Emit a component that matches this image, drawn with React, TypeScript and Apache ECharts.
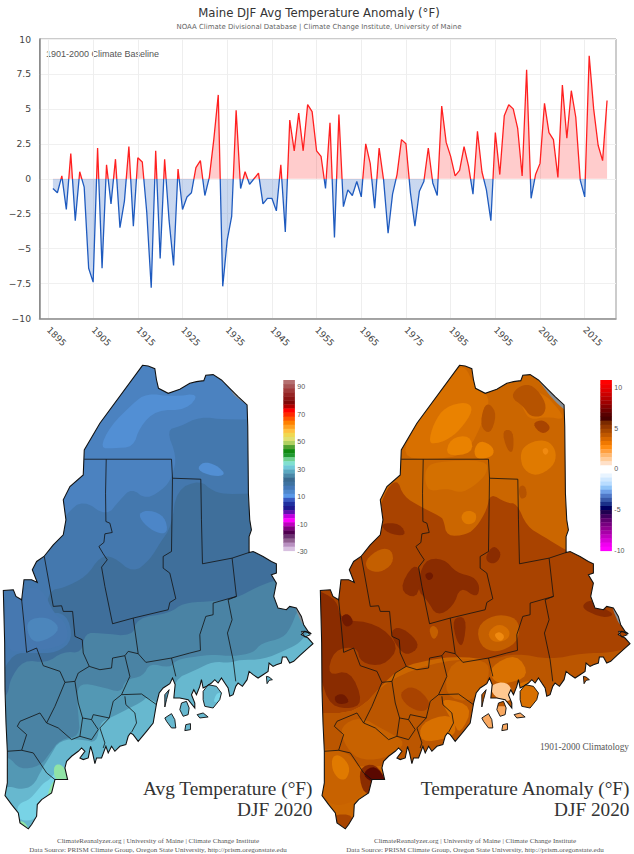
import React, { useEffect, useRef } from "react";
import * as echarts from "echarts";

const FIRST_YEAR = 1896;
const AXIS_YEARS: string[] = [];
for (let y = 1893; y <= 2022; y++) AXIS_YEARS.push(String(y));

const ANOMALY = [
  -0.7, -1.0, 0.2, -2.2, 1.8, -3.0, 0.5, -0.6, -6.4, -7.4,
  2.2, -6.4, 1.0, -1.8, 1.4, -3.5, -1.6, 2.3, -3.4, 1.5,
  1.2, -2.4, -7.8, 2.0, -5.7, 1.4, -3.0, -6.2, 0.7, -2.2,
  -1.3, -1.0, 0.8, 1.3, -1.2, 0.1, 2.8, 6.0, -7.7, -4.4,
  -2.7, 4.9, -0.7, 0.5, -0.4, 0.0, 0.4, -1.8, -1.4, -1.4,
  -2.3, 1.0, -3.8, 4.2, 2.0, 4.7, 2.0, 5.3, 4.8, 2.0,
  1.6, -0.7, 4.0, -4.2, 4.6, -2.0, -0.8, -1.2, -0.2, -1.3,
  2.5, 1.1, -2.1, 2.2, -0.1, -3.9, -1.1, 0.3, 2.8, 2.5,
  -1.0, -3.4, -0.9, -0.2, 2.2, -0.3, -1.2, 5.2, 2.6, 1.6,
  0.2, 0.6, 2.3, 0.9, -1.1, 3.4, 0.5, -0.8, -3.0, 3.3,
  0.3, 4.5, 5.3, 5.0, 3.6, 0.2, 7.8, -1.4, 0.3, 1.1,
  5.4, 3.3, 2.8, 0.1, 6.7, 2.9, 6.3, 4.4, -0.1, -1.3,
  8.8, 5.0, 2.4, 1.3, 5.6,
];

const TITLE = "Maine DJF Avg Temperature Anomaly (°F)";
const SUBTITLE = "NOAA Climate Divisional Database | Climate Change Institute, University of Maine";
const BASELINE = "1901-2000 Climate Baseline";
const FOOT_1 = "ClimateReanalyzer.org | University of Maine | Climate Change Institute";
const FOOT_2 = "Data Source: PRISM Climate Group, Oregon State University, http://prism.oregonstate.edu";

type Pt = number[];
const OUTLINE: Pt[] = [
  [428,16],[445,18],[465,26],[470,60],[476,85],[505,100],[540,88],[570,70],[590,65],[612,62],[618,46],[640,44],[665,60],[690,85],[715,110],[742,135],[744,200],[745,300],[746,400],[750,480],[755,510],[748,530],[748,578],[760,575],[790,590],[815,605],[830,612],[830,640],[815,645],[830,670],[822,710],[835,745],[860,750],[870,740],[890,745],[905,770],[912,795],[925,815],[935,822],[915,815],[905,825],[925,835],[940,852],
  [920,870],[900,888],[882,905],[870,910],[860,892],[848,892],[845,910],[830,915],[820,920],[808,910],[805,935],[790,945],[775,955],[760,945],[748,935],[742,960],[728,980],[715,970],[708,980],[700,1005],[690,1010],[685,985],[675,970],[665,955],[655,970],[645,960],[635,970],[620,980],[610,985],[605,960],[600,980],[590,1005],[582,990],[575,1005],[585,1030],[585,1045],[565,1020],[540,1015],[522,1015],[526,975],[518,955],[510,972],[490,985],[478,1000],[470,1032],[460,1090],[440,1115],[415,1145],[400,1125],[392,1120],[385,1130],[378,1155],[360,1160],[345,1175],[335,1160],[325,1180],[318,1160],[305,1195],[290,1195],[285,1212],[278,1180],[272,1160],[265,1195],[250,1200],[240,1195],[255,1175],[245,1165],[235,1175],[215,1190],[200,1205],[195,1225],[203,1260],[165,1260],[155,1300],[125,1320],[112,1335],[110,1370],[95,1395],[85,1408],[60,1390],[55,1360],[35,1335],[15,1308],[22,1270],[22,1175],[18,1090],[15,990],[14,850],[10,692],[40,690],[48,710],[65,720],[72,660],[95,660],[112,668],[97,630],[110,605],[132,590],[160,555],[190,525],[198,480],[190,420],[210,380],[250,345],[253,270],[300,190],
];
const ISLANDS: Pt[][] = [
  [[610,995],[625,975],[650,980],[665,1000],[660,1020],[640,1045],[615,1040],[610,1020]],
  [[545,1030],[560,1025],[568,1045],[565,1065],[550,1070],[540,1050]],
  [[495,1075],[515,1062],[525,1080],[528,1105],[515,1105],[500,1085]],
  [[558,1095],[572,1092],[572,1110],[555,1113]],
  [[592,1065],[610,1060],[625,1072],[600,1075]],
  [[800,950],[808,952],[818,960],[808,962],[802,972]],
  [[495,1005],[508,990],[500,1020],[495,1042]],
  [[905,815],[920,815],[932,825],[915,832]],
];
const COUNTY_LINES: Pt[][] = [
  [[253,298],[515,298],[518,355],[603,358],[605,480],[608,612],[697,595],[748,578]],
  [[319,298],[317,400],[318,485],[330,490],[337,518],[315,522],[312,548],[297,560],[310,582],[322,600],[305,622],[315,680],[338,792],[400,775],[505,750],[510,728],[528,717],[510,640],[490,625],[490,590],[515,575],[518,355]],
  [[697,595],[710,710],[685,720],[697,780],[683,820],[700,900],[708,965]],
  [[710,710],[640,730],[640,765],[618,770],[600,825],[602,872],[570,880],[515,895],[438,908],[415,882],[400,775]],
  [[515,895],[528,950]],
  [[133,590],[160,740],[185,738],[190,755],[218,755],[225,830],[247,840],[250,880],[268,920],[235,940],[225,965],[195,968]],
  [[268,920],[300,930],[335,925],[338,895],[375,888],[385,875],[415,882]],
  [[65,720],[72,790],[80,878],[110,865],[130,918],[180,935],[195,968],[165,1040],[140,1090],[175,1105],[215,1140],[240,1130],[248,1075],[235,1030],[225,965]],
  [[375,888],[390,950],[365,1005],[340,1025],[328,1075],[280,1065],[275,1080],[248,1075]],
  [[375,1010],[378,1035],[405,1060],[410,1090],[395,1118]],
  [[365,1005],[425,1003],[470,1035]],
  [[328,1075],[300,1105],[315,1150],[310,1165]],
  [[275,1080],[295,1110],[275,1140],[240,1130]],
  [[140,1090],[120,1060],[60,1085],[52,1100],[80,1125],[65,1172],[100,1180],[120,1210],[140,1240],[165,1260]],
  [[22,1175],[65,1172]],
];

type Band = { fill: string; points: Pt[] };
const W = 948;
const H = 1430;
const AVG_BANDS: Band[] = [
  { fill: "#4b82c0", points: [[0,0],[W,0],[W,H],[0,H]] },
  { fill: "#528fd4", points: [[300,265],[330,200],[400,130],[440,100],[520,110],[600,100],[560,150],[470,150],[420,200],[400,262],[340,265]] },
  { fill: "#4478ae", points: [[W,175],[680,180],[600,170],[540,200],[500,210],[530,290],[520,340],[500,380],[440,420],[395,385],[360,420],[320,470],[250,420],[200,460],[130,560],[100,620],[60,680],[0,680],[0,1000],[W,1000]] },
  { fill: "#528fd4", points: [[590,330],[610,305],[650,315],[680,345],[640,350]] },
  { fill: "#4c86c8", points: [[415,460],[450,450],[495,470],[505,520],[470,520],[430,490]] },
  { fill: "#3f6f9b", points: [[W,390],[690,405],[640,395],[600,360],[530,390],[515,500],[480,550],[450,600],[400,640],[340,590],[300,590],[260,650],[190,685],[150,690],[135,760],[200,760],[220,840],[170,880],[100,880],[40,880],[0,950],[0,1100],[W,1100]] },
  { fill: "#4678b0", points: [[15,720],[50,720],[80,680],[130,690],[160,760],[200,790],[205,850],[140,870],[85,870],[40,880],[15,850]] },
  { fill: "#4c86bc", points: [[80,780],[140,770],[180,800],[160,830],[110,850],[85,830]] },
  { fill: "#4a83a4", points: [[W,640],[830,660],[775,680],[700,720],[620,725],[550,730],[510,760],[410,775],[400,830],[300,820],[255,820],[245,880],[190,875],[140,910],[70,900],[30,960],[25,1000],[0,1030],[0,H],[W,H]] },
  { fill: "#5398b4", points: [[W,740],[895,745],[875,800],[850,835],[785,850],[760,880],[700,890],[640,885],[590,890],[530,900],[510,925],[450,910],[430,950],[375,960],[365,1000],[300,980],[240,970],[230,1010],[235,1060],[240,1130],[180,1140],[150,1180],[120,1220],[60,1230],[25,1190],[0,1200],[0,H],[W,H]] },
  { fill: "#67b8cf", points: [[W,800],[930,810],[900,850],[860,870],[790,900],[720,900],[690,910],[640,905],[590,930],[520,960],[520,1060],[440,1010],[430,1025],[330,1075],[300,1090],[290,1150],[250,1140],[180,1140],[150,1190],[125,1230],[100,1280],[60,1290],[30,1280],[0,1290],[0,H],[W,H]] },
  { fill: "#78d3e6", points: [[150,1260],[175,1225],[205,1262],[165,1310],[120,1330],[110,1380],[60,1385],[50,1350],[60,1330],[90,1320],[130,1270]] },
  { fill: "#78d3e6", points: [[650,1000],[670,1000],[660,1025],[640,1030]] },
  { fill: "#90e4a6", points: [[160,1215],[190,1215],[210,1265],[165,1265]] },
  { fill: "#90e4a6", points: [[140,1310],[160,1260],[180,1265],[150,1325]] },
  { fill: "#90e4a6", points: [[45,1385],[75,1385],[90,1420],[45,1420]] },
  { fill: "#8a8f95", points: [[690,80],[720,100],[750,135],[735,130],[700,105]] },
  { fill: "#8a8f95", points: [[885,740],[900,745],[918,800],[905,790]] },
];
const ANOM_BANDS: Band[] = [
  { fill: "#cb6600", points: [[0,0],[W,0],[W,H],[0,H]] },
  { fill: "#d87000", points: [[250,290],[300,190],[400,50],[440,10],[475,80],[520,110],[505,170],[450,285],[340,300]] },
  { fill: "#d87000", points: [[600,100],[610,80],[680,100],[720,140],[745,180],[690,170],[640,180],[620,150]] },
  { fill: "#ea8200", points: [[335,250],[350,190],[385,140],[450,125],[470,150],[430,210],[390,240],[360,250]] },
  { fill: "#ea8200", points: [[385,290],[400,235],[460,225],[470,280]] },
  { fill: "#ea8200", points: [[470,270],[490,240],[530,260],[530,290],[480,300]] },
  { fill: "#b65300", points: [[490,200],[500,140],[520,130],[540,165],[520,225]] },
  { fill: "#b65300", points: [[580,110],[610,75],[650,75],[690,130],[680,170],[640,170],[620,140]] },
  { fill: "#a84400", points: [[645,190],[680,178],[705,205],[675,225]] },
  { fill: "#b65300", points: [[555,210],[590,210],[590,280],[570,270]] },
  { fill: "#b65300", points: [[605,380],[625,375],[632,410],[610,420]] },
  { fill: "#e07a00", points: [[610,290],[620,260],[660,240],[700,245],[720,280],[710,320],[660,350],[620,330]] },
  { fill: "#f08a10", points: [[675,270],[688,262],[697,275],[685,288]] },
  { fill: "#d47000", points: [[325,330],[350,305],[510,300],[512,340],[470,380],[430,400],[390,385],[340,395],[325,370]] },
  { fill: "#a94300", points: [[170,520],[200,400],[240,355],[260,410],[310,440],[370,470],[380,480],[390,530],[450,525],[480,500],[510,450],[520,400],[570,430],[600,430],[630,500],[680,530],[745,570],[790,590],[W,640],[W,1000],[700,950],[600,900],[520,900],[420,890],[340,900],[260,920],[210,960],[120,1060],[0,1060],[0,680],[100,620]] },
  { fill: "#e07a00", points: [[430,470],[450,450],[480,460],[475,490],[445,495]] },
  { fill: "#bb5600", points: [[0,1060],[120,1060],[210,960],[380,900],[520,900],[600,880],[700,900],[800,880],[880,880],[W,860],[W,1040],[700,1040],[520,1170],[300,1220],[0,1220]] },
  { fill: "#c45f00", points: [[145,600],[190,565],[225,570],[230,610],[190,640],[150,630]] },
  { fill: "#c45f00", points: [[480,800],[530,765],[590,770],[610,800],[600,850],[540,880],[490,860]] },
  { fill: "#d87000", points: [[510,820],[545,790],[580,810],[575,840],[530,850]] },
  { fill: "#f08a10", points: [[530,825],[548,815],[565,830],[550,848]] },
  { fill: "#c45f00", points: [[335,810],[350,795],[368,815],[350,845]] },
  { fill: "#8a2c00", points: [[320,600],[380,595],[420,640],[470,650],[490,680],[480,715],[430,680],[410,740],[360,770],[330,720],[300,690]] },
  { fill: "#8a2c00", points: [[245,690],[290,610],[315,640],[300,720]] },
  { fill: "#8a2c00", points: [[505,590],[530,555],[555,580],[540,610],[515,610]] },
  { fill: "#8a2c00", points: [[220,820],[240,800],[280,820],[310,860],[270,890],[240,860]] },
  { fill: "#8a2c00", points: [[405,775],[450,770],[440,860],[420,850]] },
  { fill: "#8a2c00", points: [[0,690],[60,720],[70,780],[180,790],[250,860],[200,920],[130,910],[120,860],[50,870],[30,950],[100,930],[140,1030],[90,1050],[30,1030],[0,900]] },
  { fill: "#8a2c00", points: [[800,730],[830,720],[860,745],[895,765],[860,775],[800,750]] },
  { fill: "#8a2c00", points: [[190,490],[250,490],[270,530],[210,520]] },
  { fill: "#701a00", points: [[322,645],[340,635],[352,650],[335,665]] },
  { fill: "#701a00", points: [[70,770],[95,760],[112,790],[85,805]] },
  { fill: "#701a00", points: [[50,1010],[80,1000],[100,1030],[60,1035]] },
  { fill: "#c86200", points: [[400,900],[510,900],[520,950],[470,1030],[380,1010]] },
  { fill: "#a94300", points: [[245,1000],[290,975],[345,1030],[320,1060],[270,1040]] },
  { fill: "#c86200", points: [[70,1100],[130,1070],[200,1110],[275,1150],[200,1200],[120,1200],[80,1150]] },
  { fill: "#d87000", points: [[310,1090],[400,1060],[420,1110],[400,1135],[310,1150]] },
  { fill: "#d87000", points: [[380,1015],[470,1040],[430,1125],[410,1090],[380,1040]] },
  { fill: "#d87000", points: [[520,920],[600,880],[640,950],[560,975],[525,960]] },
  { fill: "#ffc890", points: [[520,975],[570,965],[590,1000],[575,1030],[530,1010]] },
  { fill: "#f8a860", points: [[490,1040],[640,1040],[640,1125],[490,1125]] },
  { fill: "#d87000", points: [[595,965],[685,965],[685,1055],[595,1055]] },
  { fill: "#c86200", points: [[0,1170],[60,1170],[100,1185],[130,1230],[150,1280],[130,1310],[100,1330],[50,1340],[0,1300]] },
  { fill: "#e07a00", points: [[45,1190],[70,1185],[100,1220],[90,1260],[65,1260],[45,1230]] },
  { fill: "#a84400", points: [[40,1365],[115,1365],[95,1425],[40,1420]] },
  { fill: "#8a2c00", points: [[125,1225],[175,1210],[212,1268],[165,1305],[135,1295]] },
  { fill: "#5a0800", points: [[135,1240],[175,1215],[212,1268],[160,1268]] },
  { fill: "#8a8f95", points: [[660,55],[690,82],[750,132],[748,155],[705,115]] },
  { fill: "#8a8f95", points: [[885,740],[900,745],[918,800],[905,790]] },
];

const AVG_COLORS = [
  "#b57070","#a85555","#a03a3a","#962525","#8b1515","#800808","#b00000","#ff0000","#ff2a00","#ff5500","#ff8000","#ffa020","#ffc040","#f0d850","#e0e070","#b0d060","#50a030","#108a10","#209a30","#70d090","#80e0d0",
  "#70c8d8","#5aa8c0","#4a88a8","#3a6a90","#3e72a0","#4478b8","#4f88cc","#5a98e8","#3858c0","#2030a0","#201a90","#6010b0","#c000e0","#ff00ff","#c000c0","#800080","#500050","#6a3070","#906090","#b890c0","#d8c0e0",
];
const ANOM_COLORS = [
  "#ff0000","#f00000","#e00000","#cc0000","#b80000","#a00000","#880000","#700000","#580000","#480000","#7a2a00","#943800","#a84800","#c05800","#d86800","#f07800","#ff8c10","#ffa040","#ffb870","#ffcc99","#ffe0c8",
  "#ffffff","#ffffff","#e8f4ff","#d0e8ff","#b8dcff","#90c4f8","#70a0e8","#5078c8","#3858a8","#1a3088","#000060","#200050","#400060","#600070","#780080","#900090","#a800a8","#c000c0","#d800d8","#f000f0","#ff00ff",
];
const AVG_TICKS = [["90",383],["70",410.5],["50",438],["30",465.5],["10",493],["-10",520.5],["-30",548]] as [string, number][];
const ANOM_TICKS = [["10",384],["5",425],["0",465],["-5",506],["-10",546.5]] as [string, number][];

const isFixed = (p: Pt) => p[0] <= 0 || p[0] >= W || p[1] <= 0 || p[1] >= H;
// Corner cutting, which rounds the contour bands without moving their ends at the panel's edge.
const rounded = (pts: Pt[], times = 2): Pt[] => {
  let cur = pts;
  for (let t = 0; t < times; t++) {
    const out: Pt[] = [];
    cur.forEach((p, i) => {
      const q = cur[(i + 1) % cur.length];
      out.push(isFixed(p) ? p : [0.75 * p[0] + 0.25 * q[0], 0.75 * p[1] + 0.25 * q[1]]);
      out.push(isFixed(q) ? q : [0.25 * p[0] + 0.75 * q[0], 0.25 * p[1] + 0.75 * q[1]]);
    });
    cur = out;
  }
  return cur;
};

const toPath = (pts: Pt[]) => {
  let area = 0;
  pts.forEach((p, i) => { const q = pts[(i + 1) % pts.length]; area += p[0] * q[1] - q[0] * p[1]; });
  const ordered = area > 0 ? [...pts].reverse() : pts;
  return "M" + ordered.map((p) => p[0] + " " + p[1]).join("L") + "Z";
};
let maskDone = false;
const registerMask = () => {
  if (maskDone) return;
  maskDone = true;
  const d = "M-2 -8L950 -8L950 1445L-2 1445Z" + toPath(OUTLINE) + ISLANDS.map(toPath).join("");
  echarts.graphic.registerShape("stateMask", echarts.graphic.extendPath(d, {}));
};

const mapGroup = (x: number, bands: Band[]) => ({
  type: "group", x, y: 360, scaleX: 1 / 3, scaleY: 1 / 3, silent: true,
  children: [
    ...bands.map((b) => ({ type: "polygon", shape: { points: rounded(b.points) }, style: { fill: b.fill } })),
    { type: "stateMask", style: { fill: "#ffffff" } },
    ...COUNTY_LINES.map((l) => ({ type: "polyline", shape: { points: l }, style: { stroke: "#111111", lineWidth: 2.4, fill: "none" } })),
    { type: "polygon", shape: { points: OUTLINE }, style: { stroke: "#111111", lineWidth: 3.2, fill: "none" } },
    ...ISLANDS.map((l) => ({ type: "polygon", shape: { points: l }, style: { stroke: "#111111", lineWidth: 2.8, fill: "none" } })),
  ],
});

const colorBar = (x: number, colors: string[], ticks: [string, number][]) => {
  const h = 170.7 / colors.length;
  return [
    ...colors.map((c, i) => ({ type: "rect", shape: { x, y: 380 + i * h, width: 11.6, height: h + 0.4 }, style: { fill: c } })),
    ...ticks.map(([t, y]) => ({ type: "text", x: x + 14, y, style: { text: t, font: "7px 'Liberation Sans'", fill: "#555", textBaseline: "middle" } })),
  ];
};

const serif = (text: string, x: number, y: number, size: number, fill: string, align = "right") => ({
  type: "text", x, y, style: { text, font: `${size}px 'Liberation Serif'`, fill, textAlign: align, textBaseline: "middle" },
});

const mapTexts = (right: number, center: number, name: string) => [
  serif(name, right, 779, 19.3, "#333"),
  serif("DJF 2020", right, 799.5, 19.3, "#333"),
  serif(FOOT_1, center, 837.3, 7.05, "#555", "center"),
  serif(FOOT_2, center, 846.7, 7.05, "#555", "center"),
];

const GRID_TOP = 39;
const GRID_H = 279.5;
const splitAtZero = (pos: string, neg: string) => ({
  type: "linear", x: 0, y: GRID_TOP, x2: 0, y2: GRID_TOP + GRID_H, global: true,
  colorStops: [{ offset: 0, color: pos }, { offset: 0.5, color: pos }, { offset: 0.5, color: neg }, { offset: 1, color: neg }],
});

export default function App() {
  const ref = useRef<HTMLDivElement>(null);
  useEffect(() => {
    document.body.style.margin = "0";
    registerMask();
    const chart = echarts.init(ref.current!, undefined, { renderer: "svg" });
    const series = AXIS_YEARS.map((y) => {
      const i = Number(y) - FIRST_YEAR;
      return i >= 0 && i < ANOMALY.length ? ANOMALY[i] : null;
    });
    const decade = (_: number, v: string) => Number(v) % 10 === 5;
    chart.setOption({
      animation: false,
      backgroundColor: "#ffffff",
      title: {
        text: TITLE, subtext: SUBTITLE, left: 314, top: 1.5, textAlign: "center", itemGap: 5,
        textStyle: { fontFamily: "DejaVu Sans", fontSize: 11.7, fontWeight: "normal", color: "#333333" },
        subtextStyle: { fontFamily: "DejaVu Sans", fontSize: 6.95, color: "#666666" },
      },
      grid: { left: 39.5, top: GRID_TOP, width: 576.5, height: GRID_H, show: true, borderColor: "#999999", borderWidth: 1 },
      xAxis: {
        type: "category", data: AXIS_YEARS, boundaryGap: false,
        axisLine: { show: true, onZero: false, lineStyle: { color: "#888888", width: 1.5 } },
        axisTick: { show: false },
        axisLabel: { interval: decade, rotate: -45, margin: 10, fontFamily: "DejaVu Sans", fontSize: 9, color: "#444444" },
        splitLine: { show: true, interval: decade, lineStyle: { color: "#eeeeee", width: 1 } },
      },
      yAxis: {
        type: "value", min: -10, max: 10, interval: 2.5,
        axisLine: { show: true, lineStyle: { color: "#888888", width: 1.5 } },
        axisTick: { show: false },
        axisLabel: {
          margin: 8.5, fontFamily: "DejaVu Sans", fontSize: 9.2, color: "#444444",
          formatter: (v: number) => String(v).replace("-", "\u2212"),
        },
        splitLine: { show: true, lineStyle: { color: "#f0f0f0", width: 1 } },
      },
      series: [{
        type: "line", data: series, symbol: "none", connectNulls: false,
        lineStyle: { width: 1.3, color: splitAtZero("#ff2020", "#1f5bbf") },
        areaStyle: { opacity: 1, color: splitAtZero("rgba(255,0,0,0.2)", "rgba(31,91,191,0.24)") }, z: 3,
      }],
      graphic: {
        elements: [
          { type: "text", x: 46, y: 49.5, style: { text: BASELINE, font: "9px 'Liberation Sans'", fill: "#555555", textBaseline: "middle" } },
          mapGroup(0, AVG_BANDS),
          mapGroup(317, ANOM_BANDS),
          ...colorBar(283.3, AVG_COLORS, AVG_TICKS),
          ...colorBar(600.3, ANOM_COLORS, ANOM_TICKS),
          serif("1901-2000 Climatology", 629, 742.7, 9.3, "#555"),
          ...mapTexts(312.5, 158, "Avg Temperature (°F)"),
          ...mapTexts(629.5, 475, "Temperature Anomaly (°F)"),
        ],
      },
    });
    return () => chart.dispose();
  }, []);
  return <div ref={ref} style={{ position: "absolute", left: 0, top: 0, width: 634, height: 854 }} />;
}
